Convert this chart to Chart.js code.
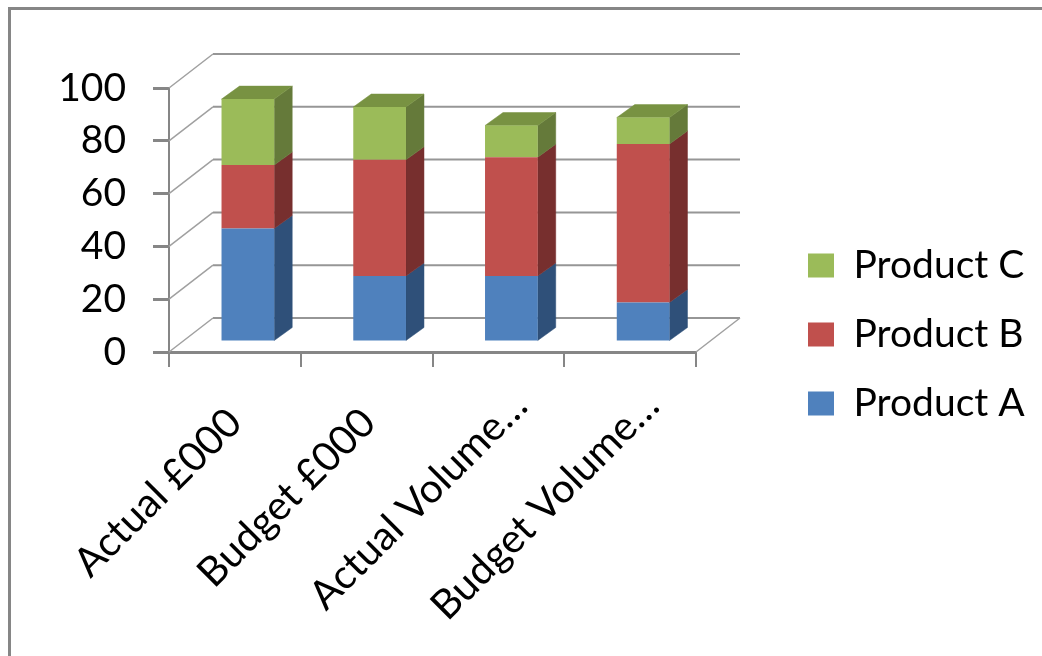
<!DOCTYPE html>
<html lang="en">
<head>
    <meta charset="UTF-8">
    <title>Product Stack</title>
    <style>
        html, body {
            margin: 0;
            padding: 0;
            background: white;
            overflow: hidden;
        }
        .frame {
            position: absolute;
            left: 8px;
            top: 7px;
            right: -10px;
            bottom: -10px;
            border-left: 3px solid #868686;
            border-top: 3px solid #868686;
        }
        canvas {
            position: absolute;
            left: 0;
            top: 0;
        }
    </style>
    <script src="https://cdn.jsdelivr.net/npm/chart.js"></script>
</head>
<body>
    <div class="frame"></div>
    <canvas id="stackChart" width="1042" height="656"></canvas>

    <script>
        const categories = ['Actual £000', 'Budget £000', 'Actual Volume…', 'Budget Volume…'];
        const productA = [43, 25, 25, 15];
        const productB = [24, 44, 45, 60];
        const productC = [25, 20, 12, 10];

        const FONT = 'Lato, "Open Sans", sans-serif';
        const AXIS_GREY = '#868686';
        const WALL = { dx: 44, dy: -34 };   // front axis to back wall
        const BAR_PLANE = { dx: 13, dy: -10 }; // front axis to bar faces
        const BAR_DEPTH = { dx: 18, dy: -13 };
        const sideColors = ['#2f5079', '#772f2e', '#657a3a'];
        const TOP_COLOR = '#789242';

        // the volume labels sit further right than the tick centre
        const labelNudgeX = [0, 2, 22, 22];
        const labelY = [416, 416, 399, 399];

        function quad(ctx, pts, color) {
            ctx.fillStyle = color;
            ctx.strokeStyle = color;
            ctx.lineWidth = 0.5;
            ctx.beginPath();
            pts.forEach((p, i) => i ? ctx.lineTo(p[0], p[1]) : ctx.moveTo(p[0], p[1]));
            ctx.closePath();
            ctx.fill();
            ctx.stroke();
        }

        // Back wall, floor edges and the depth side of every bar
        const box3d = {
            id: 'box3d',
            afterLayout(chart) {
                const lg = chart.legend;
                lg.left = 778;
                lg.right = lg.left + lg.width;
                lg.top = 216;
                lg.bottom = lg.top + lg.height;
            },
            beforeDatasetsDraw(chart) {
                const { ctx, chartArea, scales: { x, y } } = chart;
                ctx.save();

                y.ticks.forEach(t => {
                    const py = y.getPixelForValue(t.value);
                    ctx.strokeStyle = '#969696';
                    ctx.lineWidth = 2;
                    ctx.beginPath();
                    ctx.moveTo(chartArea.left + WALL.dx, py + WALL.dy);
                    ctx.lineTo(chartArea.right + WALL.dx, py + WALL.dy);
                    ctx.stroke();

                    ctx.strokeStyle = '#a0a0a0';
                    ctx.lineWidth = 1.5;
                    ctx.beginPath();
                    ctx.moveTo(chartArea.left, py);
                    ctx.lineTo(chartArea.left + WALL.dx, py + WALL.dy);
                    ctx.stroke();
                });
                const py0 = y.getPixelForValue(0);
                ctx.beginPath();
                ctx.moveTo(chartArea.right, py0);
                ctx.lineTo(chartArea.right + WALL.dx, py0 + WALL.dy);
                ctx.stroke();

                // bars are drawn on a plane set back from the axis
                ctx.translate(BAR_PLANE.dx, BAR_PLANE.dy);
                const last = chart.data.datasets.length - 1;
                chart.data.datasets.forEach((ds, i) => {
                    chart.getDatasetMeta(i).data.forEach(bar => {
                        const r = bar.x + bar.width / 2;
                        const l = bar.x - bar.width / 2;
                        const d = BAR_DEPTH;
                        quad(ctx, [[r, bar.base], [r + d.dx, bar.base + d.dy], [r + d.dx, bar.y + d.dy], [r, bar.y]], sideColors[i]);
                        if (i === last) {
                            quad(ctx, [[l, bar.y], [l + d.dx, bar.y + d.dy], [r + d.dx, bar.y + d.dy], [r, bar.y]], TOP_COLOR);
                        }
                    });
                });
                // restored in afterDatasetsDraw, so the library's bars share the shift
            },
            afterDatasetsDraw(chart) {
                chart.ctx.restore();
            },
            afterDraw(chart) {
                const { ctx, scales: { x } } = chart;
                ctx.save();
                ctx.font = '40.5px ' + FONT;
                ctx.fillStyle = '#000';
                ctx.textAlign = 'right';
                ctx.textBaseline = 'middle';
                categories.forEach((label, i) => {
                    ctx.save();
                    ctx.translate(x.getPixelForValue(i) + labelNudgeX[i], labelY[i]);
                    ctx.rotate(-Math.PI / 4);
                    ctx.fillText(label, 0, 0);
                    ctx.restore();
                });
                ctx.restore();
            }
        };

        const chart = new Chart(document.getElementById('stackChart').getContext('2d'), {
            type: 'bar',
            data: {
                labels: categories,
                datasets: [
                    { label: 'Product A', data: productA, backgroundColor: '#4f81bd' },
                    { label: 'Product B', data: productB, backgroundColor: '#c0504d' },
                    { label: 'Product C', data: productC, backgroundColor: '#9bbb59' }
                ]
            },
            options: {
                responsive: false,
                animation: false,
                layout: { padding: { left: 0, top: 88, right: 346, bottom: 289 } },
                datasets: { bar: { categoryPercentage: 1, barPercentage: 0.4 } },
                scales: {
                    x: {
                        stacked: true,
                        grid: { drawOnChartArea: false, color: AXIS_GREY, lineWidth: 2, tickLength: 15 },
                        border: { color: AXIS_GREY, width: 3 },
                        ticks: { display: false }
                    },
                    y: {
                        stacked: true,
                        min: 0,
                        max: 100,
                        afterFit(scale) { scale.width = 169; },
                        grid: { drawOnChartArea: false, color: AXIS_GREY, lineWidth: 3, tickLength: 16 },
                        border: { color: AXIS_GREY, width: 2 },
                        ticks: { stepSize: 20, color: '#000', padding: 27, font: { family: FONT, size: 39 } }
                    }
                },
                plugins: {
                    tooltip: { enabled: false },
                    legend: {
                        position: 'chartArea',
                        align: 'start',
                        reverse: true,
                        labels: {
                            color: '#000',
                            boxWidth: 26,
                            boxHeight: 24,
                            padding: 30,
                            font: { family: FONT, size: 39 }
                        }
                    }
                }
            },
            plugins: [box3d]
        });
    </script>
</body>
</html>
